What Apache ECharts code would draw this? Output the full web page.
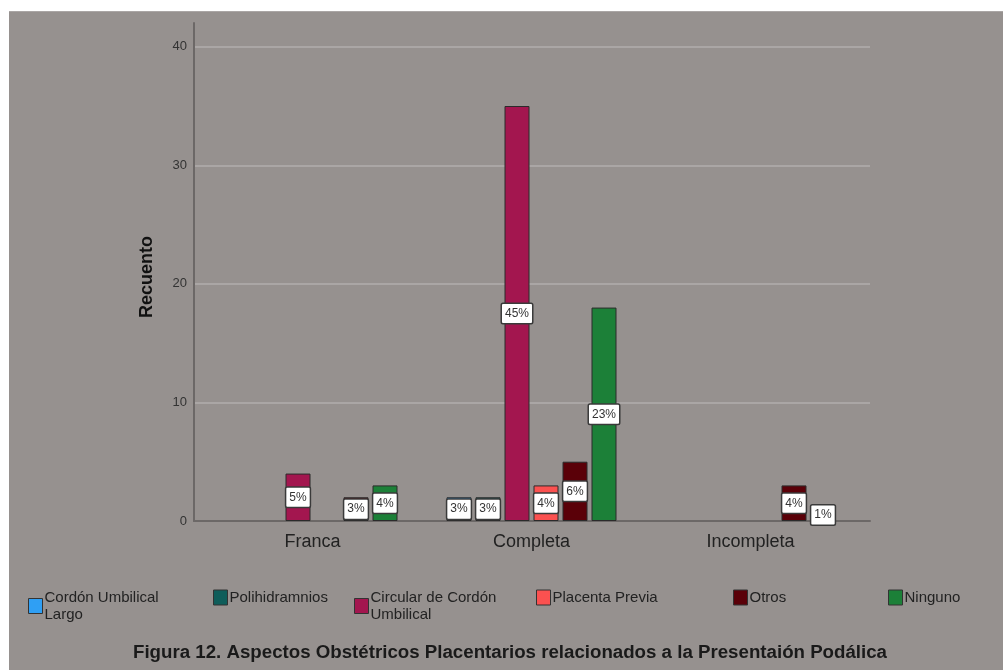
<!DOCTYPE html>
<html>
<head>
  <meta charset="utf-8">
  <title>Figura 12</title>
  <style>
    body { margin: 0; background: #ffffff; }
    #container {
      position: absolute; left: 9px; top: 11px;
      width: 994px; height: 659px;
      background-color: #96918f;
      border-top: 1px solid #aaa6a5;
      box-sizing: border-box;
    }
  </style>
</head>
<body>
  <div id="container"></div>
  <script src="https://cdn.jsdelivr.net/npm/echarts@6/dist/echarts.min.js"></script>
  <script>
    // datos (recuento por tipo de presentación)
    const categorias = ['Franca', 'Completa', 'Incompleta'];
    const cordonLargo = [null, 2, null];
    const polihidramnios = [null, 2, null];
    const circular = [4, 35, null];
    const placenta = [null, 3, null];
    const otros = [2, 5, 3];
    const ninguno = [3, 18, 1];
    const yTicks = [0, 10, 20, 30, 40];

    const nombres = ['Cordón Umbilical Largo', 'Polihidramnios', 'Circular de Cordón Umbilical',
      'Placenta Previa', 'Otros', 'Ninguno'];
    const valores = [cordonLargo, polihidramnios, circular, placenta, otros, ninguno];
    const colores = ['#2f9ff4', '#0f5d5a', '#a3164f', '#fb5150', '#5a0008', '#1c8038'];

    let total = 0;
    valores.forEach(arr => arr.forEach(v => { if (v != null) total += v; }));

    const font = "'Liberation Sans', Arial, sans-serif";
    let myChart = echarts.init(document.getElementById('container'));

    // leyendas, una por serie
    const legLeft = [14, 199, 340, 522, 719, 874];
    const legends = nombres.map((n, i) => ({
      data: [n],
      left: legLeft[i],
      top: 572,
      icon: 'rect',
      itemWidth: 14,
      itemHeight: 15,
      itemGap: 0,
      selectedMode: false,
      itemStyle: { borderColor: '#333', borderWidth: 1 },
      formatter: name => name === 'Cordón Umbilical Largo' ? 'Cordón Umbilical\nLargo'
        : (name === 'Circular de Cordón Umbilical' ? 'Circular de Cordón\nUmbilical' : name),
      textStyle: { fontFamily: font, fontSize: 15, color: '#222', lineHeight: 17, padding: [0, 0, 0, -3] }
    }));

    let option = {
      animation: false,
      color: colores,
      textStyle: { fontFamily: font },
      title: {
        text: 'Figura 12. Aspectos Obstétricos Placentarios relacionados a la Presentaión Podálica',
        left: 119,
        top: 626,
        textStyle: { fontFamily: font, fontSize: 18.7, fontWeight: 'bold', color: '#1a1a1a' }
      },
      legend: legends,
      grid: [
        { left: 185, right: 133, top: 11, bottom: 149 },
        { left: 194, right: 143, top: 11, bottom: 149 }
      ],
      xAxis: [
        {
          gridIndex: 0, type: 'category', data: categorias,
          axisLine: { show: true, lineStyle: { color: '#6c6867', width: 2 } },
          axisTick: { show: false }, axisLabel: { show: false }
        },
        {
          gridIndex: 1, type: 'category', data: categorias,
          axisLine: { show: false }, axisTick: { show: false },
          axisLabel: { fontFamily: font, fontSize: 18, color: '#222', margin: 12 }
        }
      ],
      yAxis: [
        {
          gridIndex: 0, type: 'value', min: yTicks[0], max: 42, interval: 10,
          name: 'Recuento', nameLocation: 'middle', nameGap: 38,
          nameTextStyle: { fontFamily: font, fontSize: 18, fontWeight: 'bold', color: '#111', padding: [0, 0, 0, -10] },
          axisLine: { show: true, lineStyle: { color: '#6c6867', width: 2 } },
          axisTick: { show: false },
          axisLabel: { fontFamily: font, fontSize: 13, color: '#333', margin: 7, showMaxLabel: false },
          splitLine: { show: true, showMaxLine: false, lineStyle: { color: '#aaa6a5', width: 2 } }
        },
        {
          gridIndex: 1, type: 'value', min: 0, max: 42, show: false
        }
      ],
      series: nombres.map((n, i) => ({
        type: 'bar',
        name: n,
        xAxisIndex: 1,
        yAxisIndex: 1,
        data: valores[i],
        barWidth: 25,
        barGap: '16%',
        itemStyle: { color: colores[i], borderColor: '#2b2b2b', borderWidth: 1 },
        label: {
          show: true,
          position: 'inside',
          formatter: p => Math.round(p.value / total * 100) + '%',
          fontFamily: font,
          fontSize: 12,
          color: '#333',
          backgroundColor: '#ffffff',
          borderColor: '#3a3a3a',
          borderWidth: 1.5,
          borderRadius: 1,
          padding: [4, 3, 3, 3]
        }
      }))
    };

    myChart.setOption(option);
  </script>
</body>
</html>
